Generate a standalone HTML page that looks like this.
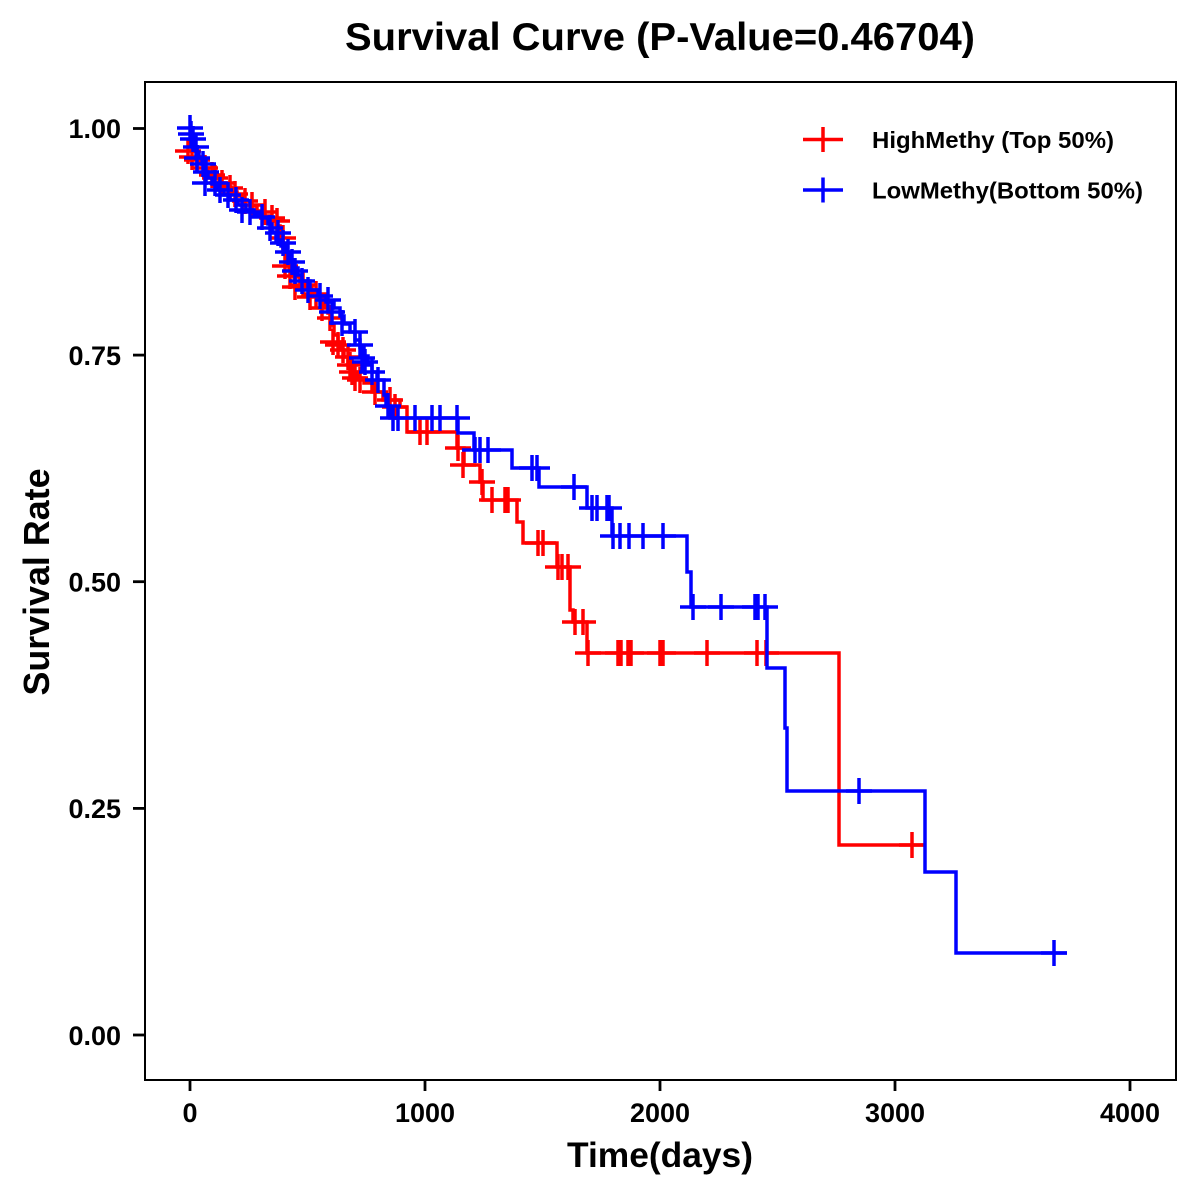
<!DOCTYPE html>
<html><head><meta charset="utf-8"><style>
html,body{margin:0;padding:0;background:#fff;}
svg{display:block;}
text{font-family:"Liberation Sans",Arial,sans-serif;font-weight:bold;fill:#000;}
</style></head><body>
<svg width="1200" height="1200" viewBox="0 0 1200 1200" xmlns="http://www.w3.org/2000/svg">
<rect width="1200" height="1200" fill="#fff"/>
<text x="660" y="50" font-size="39" text-anchor="middle" textLength="630" lengthAdjust="spacingAndGlyphs">Survival Curve (P-Value=0.46704)</text>

<!-- panel -->
<rect x="145" y="82" width="1031" height="998" fill="none" stroke="#000" stroke-width="2"/>

<!-- ticks -->
<g stroke="#000" stroke-width="2.8">
<line x1="133" y1="128.5" x2="145" y2="128.5"/>
<line x1="133" y1="355.1" x2="145" y2="355.1"/>
<line x1="133" y1="581.7" x2="145" y2="581.7"/>
<line x1="133" y1="808.4" x2="145" y2="808.4"/>
<line x1="133" y1="1035" x2="145" y2="1035"/>
<line x1="190" y1="1080" x2="190" y2="1091"/>
<line x1="425" y1="1080" x2="425" y2="1091"/>
<line x1="660" y1="1080" x2="660" y2="1091"/>
<line x1="895" y1="1080" x2="895" y2="1091"/>
<line x1="1130" y1="1080" x2="1130" y2="1091"/>
</g>
<g font-size="27" text-anchor="end">
<text x="121" y="138">1.00</text>
<text x="121" y="365">0.75</text>
<text x="121" y="591.5">0.50</text>
<text x="121" y="818">0.25</text>
<text x="121" y="1045">0.00</text>
</g>
<g font-size="27" text-anchor="middle">
<text x="190" y="1122">0</text>
<text x="425" y="1122">1000</text>
<text x="660" y="1122">2000</text>
<text x="895" y="1122">3000</text>
<text x="1130" y="1122">4000</text>
</g>
<text x="660" y="1167" font-size="35" text-anchor="middle" textLength="186" lengthAdjust="spacingAndGlyphs">Time(days)</text>
<text transform="translate(49,582) rotate(-90)" font-size="36" text-anchor="middle" textLength="227" lengthAdjust="spacingAndGlyphs">Survival Rate</text>

<!-- red curve -->
<path fill="none" stroke="#FF0000" stroke-width="3.5" d="M190,128.5 H191 V140 H193 V146 H195 V151 H197 V157 H200 V163 H204 V168 H208 V173 H213 V178 H219 V183 H225 V187 H231 V192 H237 V196 H243 V201 H250 V206 H257 V211 H264 V216 H270 V221 H276 V226 H280 V235 H283 V248 H286 V262 H289 V270 H294 V277 H300 V283 H306 V288 H312 V292 H318 V298 H324 V305 H328 V313 H331 V325 H334 V335 H338 V342 H341 V350 H344 V357 H348 V365 H352 V372 H358 V378 H364 V383 H372 V392 H383 V400 H400 V407 H407 V432 H457 V448 H464 V465 H480 V482 H483 V500 H517 V522 H523 V543 H557 V567 H570 V610 H573 V622 H587 V653 H839 V845 H924"/>
<path fill="none" stroke="#FF0000" stroke-width="3.5" d="
M175,151h26M188,138v26 M179,157h26M192,144v26 M184,160h26M197,147v26 M192,168h26M205,155v26
M199,175h26M212,162v26 M202,178h26M215,165v26 M209,183h26M222,170v26 M217,188h26M230,175v26
M222,194h26M235,181v26 M232,201h26M245,188v26 M239,205h26M252,192v26 M252,212h26M265,199v26
M259,218h26M272,205v26 M264,221h26M277,208v26 M270,238h26M283,225v26 M272,266h26M285,253v26
M277,276h26M290,263v26 M282,287h26M295,274v26 M290,285h26M303,272v26 M297,297h26M310,284v26
M303,294h26M316,281v26 M309,308h26M322,295v26 M317,318h26M330,305v26 M320,342h26M333,329v26
M325,345h26M338,332v26 M330,350h26M343,337v26 M335,357h26M348,344v26 M337,365h26M350,352v26
M339,372h26M352,359v26 M342,378h26M355,365v26 M347,380h26M360,367v26 M362,392h26M375,379v26
M377,400h26M390,387v26 M382,407h26M395,394v26 M407,432h26M420,419v26 M414,432h26M427,419v26
M445,448h26M458,435v26 M450,465h26M463,452v26 M469,482h26M482,469v26 M479,500h26M492,487v26
M492,500h26M505,487v26 M495,500h26M508,487v26 M525,543h26M538,530v26 M530,543h26M543,530v26
M545,567h26M558,554v26 M549,567h26M562,554v26 M555,567h26M568,554v26 M562,622h26M575,609v26
M570,622h26M583,609v26 M575,653h26M588,640v26 M605,653h26M618,640v26 M608,653h26M621,640v26
M615,653h26M628,640v26 M618,653h26M631,640v26 M647,653h26M660,640v26 M650,653h26M663,640v26
M694,653h26M707,640v26 M744,653h26M757,640v26 M753,653h26M766,640v26 M899,845h26M912,832v26"/>

<!-- blue curve -->
<path fill="none" stroke="#0000FF" stroke-width="3.5" d="M190,128.5 H191 V134 H192 V139 H194 V147 H197 V152 H199 V158 H202 V164 H205 V172 H208 V178 H212 V184 H218 V190 H224 V195 H230 V200 H238 V205 H246 V210 H254 V214 H262 V218 H268 V224 H272 V232 H276 V240 H281 V246 H286 V252 H290 V260 H294 V268 H298 V275 H302 V281 H310 V290 H318 V296 H326 V302 H334 V308 H340 V316 H344 V324 H350 V332 H355 V340 H360 V347 H364 V356 H368 V365 H372 V372 H377 V380 H384 V395 H386 V406 H390 V418 H458 V433 H474 V450 H512 V468 H539 V487 H587 V508 H612 V536 H687 V572 H691 V607 H767 V668 H785 V728 H787 V791 H925 V872 H956 V953 H1067"/>
<path fill="none" stroke="#0000FF" stroke-width="3.5" d="
M177,128h26M190,115v26 M178,134h26M191,121v26 M180,139h26M193,126v26 M183,147h26M196,134v26
M184,158h26M197,145v26 M190,164h26M203,151v26 M193,172h26M206,159v26 M192,183h26M205,170v26
M202,183h26M215,170v26 M207,190h26M220,177v26 M215,195h26M228,182v26 M223,200h26M236,187v26
M229,210h26M242,197v26 M237,212h26M250,199v26 M249,217h26M262,204v26 M257,228h26M270,215v26
M265,233h26M278,220v26 M270,243h26M283,230v26 M275,252h26M288,239v26 M279,262h26M292,249v26
M282,271h26M295,258v26 M289,281h26M302,268v26 M295,290h26M308,277v26 M307,296h26M320,283v26
M315,300h26M328,287v26 M319,312h26M332,299v26 M329,323h26M342,310v26 M342,332h26M355,319v26
M347,345h26M360,332v26 M349,358h26M362,345v26 M352,362h26M365,349v26 M359,372h26M372,359v26
M365,380h26M378,367v26 M375,406h26M388,393v26 M380,418h26M393,405v26 M385,418h26M398,405v26
M402,418h26M415,405v26 M419,418h26M432,405v26 M427,418h26M440,405v26 M444,418h26M457,405v26
M462,450h26M475,437v26 M467,450h26M480,437v26 M475,450h26M488,437v26 M519,468h26M532,455v26
M524,468h26M537,455v26 M561,487h26M574,474v26 M579,508h26M592,495v26 M584,508h26M597,495v26
M594,508h26M607,495v26 M596,508h26M609,495v26 M600,536h26M613,523v26 M607,536h26M620,523v26
M616,536h26M629,523v26 M630,536h26M643,523v26 M650,536h26M663,523v26 M680,607h26M693,594v26
M708,607h26M721,594v26 M742,607h26M755,594v26 M745,607h26M758,594v26 M752,607h26M765,594v26
M846,791h26M859,778v26 M1041,953h26M1054,940v26"/>

<!-- legend -->
<path fill="none" stroke="#FF0000" stroke-width="3.5" d="M803,139.5h40M823,127v25"/>
<path fill="none" stroke="#0000FF" stroke-width="3.5" d="M803,190h40M823,177.5v25"/>
<text x="872" y="148" font-size="23.5" textLength="242" lengthAdjust="spacingAndGlyphs">HighMethy (Top 50%)</text>
<text x="872" y="198.5" font-size="23.5" textLength="271" lengthAdjust="spacingAndGlyphs">LowMethy(Bottom 50%)</text>
</svg>
</body></html>
